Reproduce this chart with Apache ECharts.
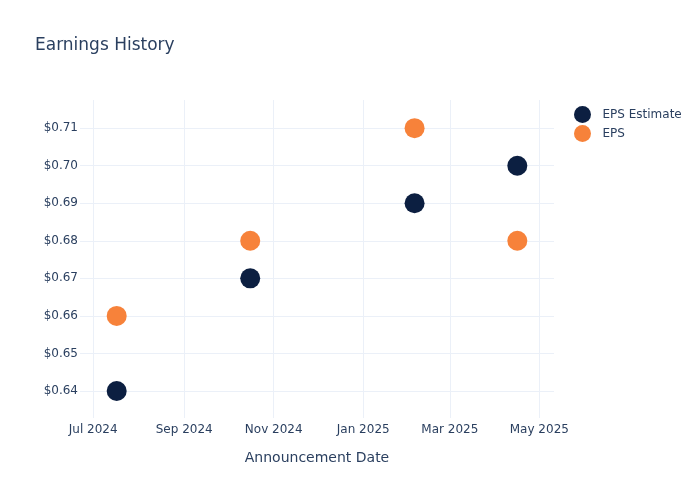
<!DOCTYPE html>
<html>
<head>
<meta charset="utf-8">
<script src="https://cdn.jsdelivr.net/npm/echarts@6/dist/echarts.min.js"></script>
<style>
  html, body { margin: 0; padding: 0; background: #fff; }
  #chart { width: 700px; height: 500px; }
</style>
</head>
<body>
<div id="chart"></div>
<script>
// earnings dates and values
const announceDates = ['2024-07-17', '2024-10-16', '2025-02-05', '2025-04-16'];
const epsEstimate = [0.64, 0.67, 0.69, 0.70];
const epsActual = [0.66, 0.68, 0.71, 0.68];

const xTickDates = ['2024-07-01', '2024-09-01', '2024-11-01', '2025-01-01', '2025-03-01', '2025-05-01'];
const xTickLabels = ['Jul 2024', 'Sep 2024', 'Nov 2024', 'Jan 2025', 'Mar 2025', 'May 2025'];
const yTicks = [0.64, 0.65, 0.66, 0.67, 0.68, 0.69, 0.70, 0.71];

// timestamps on a plain value axis so the 2-month ticks can be placed exactly
const ts = (d) => Date.UTC(+d.slice(0, 4), +d.slice(5, 7) - 1, +d.slice(8, 10));
const xTickValues = xTickDates.map(ts);

const textColor = '#2a3f5f';
const gridColor = '#ebf0f8';
const font = 'DejaVu Sans';

const chart = echarts.init(document.getElementById('chart'));

const pairs = (vals) => announceDates.map((d, i) => [ts(d), vals[i]]);

chart.setOption({
  animation: false,
  backgroundColor: '#fff',
  textStyle: { fontFamily: font, color: textColor },
  title: {
    text: 'Earnings History',
    left: 35,
    top: 37,
    padding: 0,
    textStyle: { fontFamily: font, fontSize: 17, fontWeight: 'normal', color: textColor },
  },
  legend: {
    orient: 'vertical',
    left: 574,
    top: 106,
    padding: 0,
    itemGap: 2,
    itemWidth: 18,
    itemHeight: 17,
    icon: 'circle',
    textStyle: { fontFamily: font, fontSize: 12, color: textColor, padding: [0, 0, 0, 6] },
    data: ['EPS Estimate', 'EPS'],
  },
  grid: { left: 80, right: 146, top: 100, bottom: 82, containLabel: false },
  xAxis: {
    type: 'value',
    min: ts('2024-06-22'),
    max: ts('2025-05-11'),
    name: 'Announcement Date',
    nameLocation: 'middle',
    nameGap: 33,
    nameTextStyle: { fontFamily: font, fontSize: 14, color: textColor },
    axisLine: { show: false },
    axisTick: { show: false, customValues: xTickValues },
    axisLabel: {
      customValues: xTickValues,
      margin: 6,
      fontFamily: font,
      fontSize: 12,
      color: textColor,
      formatter: (v) => {
        const i = xTickValues.indexOf(v);
        return i >= 0 ? xTickLabels[i] : '';
      },
    },
    splitLine: { show: true, lineStyle: { color: gridColor, width: 1 } },
  },
  yAxis: {
    type: 'value',
    min: 0.6328,
    max: 0.7175,
    axisLine: { show: false },
    axisTick: { show: false, customValues: yTicks },
    axisLabel: {
      customValues: yTicks,
      margin: 2,
      fontFamily: font,
      fontSize: 12,
      color: textColor,
      formatter: (v) => '$' + v.toFixed(2),
    },
    splitLine: { show: true, lineStyle: { color: gridColor, width: 1 } },
  },
  series: [
    {
      name: 'EPS Estimate',
      type: 'scatter',
      symbolSize: 20,
      itemStyle: { color: '#0c1f41', opacity: 1 },
      data: pairs(epsEstimate),
    },
    {
      name: 'EPS',
      type: 'scatter',
      symbolSize: 20,
      itemStyle: { color: '#f7823a', opacity: 1 },
      data: pairs(epsActual),
    },
  ],
});
</script>
</body>
</html>
